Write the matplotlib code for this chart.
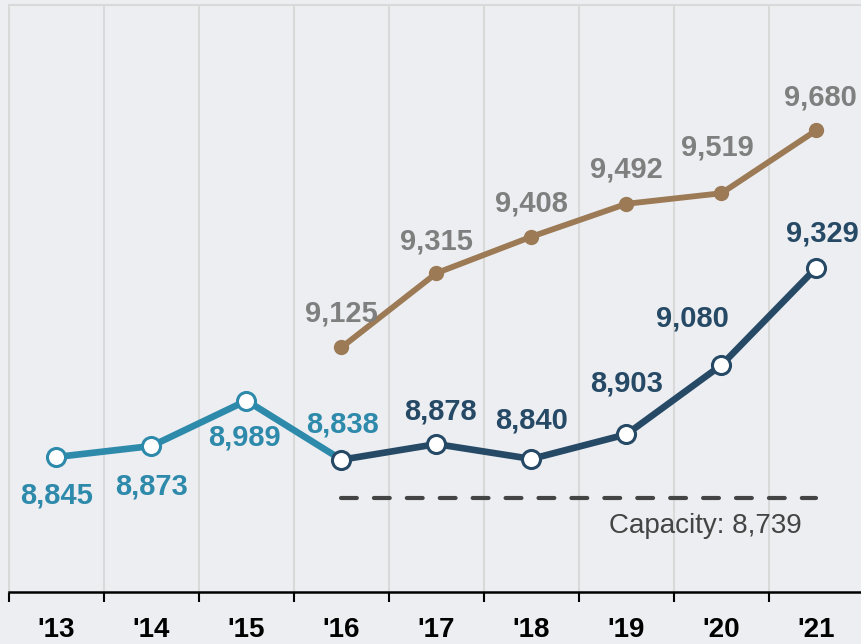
import matplotlib
matplotlib.use("Agg")
import matplotlib.pyplot as plt

years = ["'13", "'14", "'15", "'16", "'17", "'18", "'19", "'20", "'21"]

# actual enrollment, split into the two coloured segments
early_idx = [0, 1, 2, 3]
early_vals = [8845, 8873, 8989, 8838]
late_idx = [3, 4, 5, 6, 7, 8]
late_vals = [8838, 8878, 8840, 8903, 9080, 9329]

# projected series
proj_idx = [3, 4, 5, 6, 7, 8]
proj_vals = [9125, 9315, 9408, 9492, 9519, 9680]

capacity = 8739

TEAL = "#2e8aab"
NAVY = "#264a66"
BROWN = "#9b7a55"
GREY_TXT = "#7f7f7f"
BG = "#edeef2"
GRID = "#d9d9d9"

plt.rcParams["font.family"] = ["Liberation Sans", "DejaVu Sans"]

fig = plt.figure(figsize=(8.62, 6.44), dpi=100)
fig.patch.set_facecolor(BG)
ax = fig.add_axes([9 / 862, 52 / 644, 855 / 862, 587 / 644])
ax.set_facecolor(BG)

ax.set_xlim(-0.5, 8.5)
ax.set_ylim(8500, 10000)

# boundaries carry ticks and grid, centres carry the year labels
ax.set_xticks([i - 0.5 for i in range(len(years) + 1)])
ax.set_xticklabels([])
ax.set_xticks(range(len(years)), minor=True)
ax.set_xticklabels(years, minor=True, fontsize=20, fontweight="bold")
ax.tick_params(axis="x", which="major", length=7, width=1.5, color="black",
               direction="out")
ax.tick_params(axis="x", which="minor", length=0, pad=18)
ax.set_yticks([])
ax.grid(axis="x", which="major", color=GRID, linewidth=1.5)
ax.set_axisbelow(True)

for side in ["top", "left", "right"]:
    ax.spines[side].set_color(GRID)
    ax.spines[side].set_linewidth(1.5)
ax.spines["bottom"].set_color("black")
ax.spines["bottom"].set_linewidth(1.8)

# capacity line
ax.plot([3, 8], [capacity, capacity], color="#444444", linewidth=3,
        dashes=(3.8, 4.1), dash_capstyle="round", zorder=2)
ax.annotate(f"Capacity: {capacity:,}", (6.83, capacity), xytext=(0, -28),
            textcoords="offset pixels", ha="center", va="center",
            fontsize=20, color="#444444")

# projection
ax.plot(proj_idx, proj_vals, color=BROWN, linewidth=4.2, marker="o",
        markersize=10, zorder=3)

# actual
ax.plot(early_idx, early_vals, color=TEAL, linewidth=4.8, zorder=4)
ax.plot(late_idx, late_vals, color=NAVY, linewidth=4.8, zorder=4)
ax.plot(early_idx[:-1], early_vals[:-1], linestyle="none", marker="o",
        markersize=13, markerfacecolor="white", markeredgecolor=TEAL,
        markeredgewidth=2.2, zorder=5)
ax.plot(late_idx, late_vals, linestyle="none", marker="o",
        markersize=13, markerfacecolor="white", markeredgecolor=NAVY,
        markeredgewidth=2.2, zorder=5)

label_kw = dict(textcoords="offset pixels", ha="center", va="center",
                fontsize=21, fontweight="bold")

early_off = [(0, -39), (0, -40), (-2, -37), (1, 35)]
for x, v, off in zip(early_idx, early_vals, early_off):
    ax.annotate(f"{v:,}", (x, v), xytext=off, color=TEAL, **label_kw)

late_off = [(4, 33), (0, 38), (0, 51), (-29, 47), (6, 34)]
for x, v, off in zip(late_idx[1:], late_vals[1:], late_off):
    ax.annotate(f"{v:,}", (x, v), xytext=off, color=NAVY, **label_kw)

proj_off = [(0, 34), (0, 32), (0, 33), (0, 34), (-4, 46), (4, 33)]
for x, v, off in zip(proj_idx, proj_vals, proj_off):
    ax.annotate(f"{v:,}", (x, v), xytext=off, color=GREY_TXT, **label_kw)

fig.savefig("out.png", dpi=100, facecolor=BG)
